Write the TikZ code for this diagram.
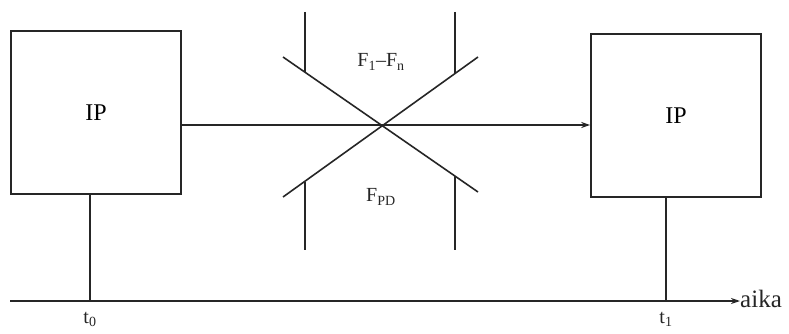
\documentclass[tikz,border=0pt]{standalone}
\usepackage{fontspec}
\setmainfont{Liberation Serif}
\usetikzlibrary{arrows.meta,calc}
\begin{document}
\begin{tikzpicture}[x=1pt,y=-1pt,
  ln/.style={draw=black!85,line width=1.6pt},
  ipbox/.style={ln,minimum width=170pt,minimum height=163pt,inner sep=0pt,
    font=\fontsize{24}{28}\selectfont},
  lbl/.style={font=\fontsize{20}{24}\selectfont,text=black!85,inner sep=0pt},
  arr/.style={ln,-{Stealth[length=9pt,width=6pt]}}]
\useasboundingbox (0,0) rectangle (789,334);
\node[ipbox] (L) at (96,112.5) {IP};
\node[ipbox] (R) at (676,115.5) {IP};
\coordinate (h) at (0,125);
\draw[arr] (L.east|-h) -- (R.west|-h);
% X construction
\coordinate (c) at (382,126);
\coordinate (d1a) at (283,57);
\coordinate (d1b) at (478,192);
\coordinate (d2a) at (478,57);
\coordinate (d2b) at (283,197);
\draw[ln] (d1a) -- (d1b);
\draw[ln] (d2a) -- (d2b);
\coordinate (v1t) at (305,12);
\coordinate (v1b) at (305,72.2);
\coordinate (v2t) at (455,12);
\coordinate (v2b) at (455,72.9);
\coordinate (v3t) at (305,181.8);
\coordinate (v3b) at (305,250);
\coordinate (v4t) at (455,176.3);
\coordinate (v4b) at (455,250);
\draw[ln] (v1t) -- (v1b);
\draw[ln] (v2t) -- (v2b);
\draw[ln] (v3t) -- (v3b);
\draw[ln] (v4t) -- (v4b);
\node[lbl] (F1) at (381,62) {F\textsubscript{1}–F\textsubscript{n}};
\node[lbl] (FPD) at (381,197) {F\textsubscript{PD}};
% time axis
\coordinate (a0) at (10,301);
\node[lbl,anchor=west,font=\fontsize{25}{28}\selectfont] (aika) at (740,299) {aika};
\draw[arr] (a0) -- (aika.west|-a0);
\coordinate (t0) at (90,301);
\coordinate (t1) at (666,301);
\draw[ln] (L.south-|t0) -- (t0);
\draw[ln] (R.south-|t1) -- (t1);
\node[lbl,anchor=north] (t0l) at (90,312) {t\textsubscript{0}};
\node[lbl,anchor=north] (t1l) at (666,312) {t\textsubscript{1}};
\end{tikzpicture}
\end{document}
